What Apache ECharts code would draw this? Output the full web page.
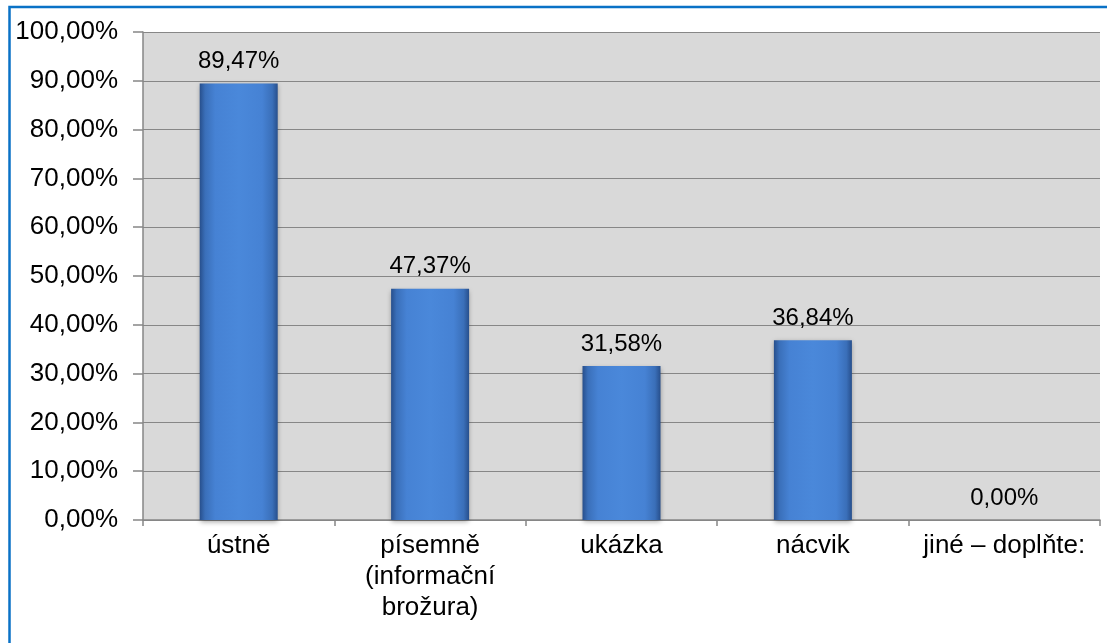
<!DOCTYPE html>
<html>
<head>
<meta charset="utf-8">
<script src="https://cdn.jsdelivr.net/npm/echarts@6/dist/echarts.min.js"></script>
<style>
  html, body { margin: 0; padding: 0; background: #ffffff; }
  #chart { width: 1107px; height: 643px; }
</style>
</head>
<body>
<div id="chart"></div>
<script>
// Categories and shares (percent)
const categories = ['ústně', 'písemně\n(informační\nbrožura)', 'ukázka', 'nácvik', 'jiné – doplňte:'];
const shares = [89.47, 47.37, 31.58, 36.84, 0.00];

const yMin = 0;
const yMax = 100;
const yStep = 10;

const pct = v => Number(v).toFixed(2).replace('.', ',') + '%';
const FONT = '"Liberation Sans", Arial, sans-serif';

const chart = echarts.init(document.getElementById('chart'), null, { renderer: 'canvas' });

// bevelled blue column: darker edges, lighter face
const barFill = new echarts.graphic.LinearGradient(0, 0, 1, 0, [
  { offset: 0, color: '#274f8c' },
  { offset: 0.07, color: '#3a6fb9' },
  { offset: 0.2, color: '#4682d4' },
  { offset: 0.5, color: '#4a88da' },
  { offset: 0.8, color: '#4682d4' },
  { offset: 0.93, color: '#3a6fb9' },
  { offset: 1, color: '#274f8c' }
]);

chart.setOption({
  backgroundColor: '#ffffff',
  animation: false,
  graphic: [{
    type: 'rect',
    shape: { x: 9.5, y: 7, width: 1200, height: 800 },
    style: { fill: 'none', stroke: '#0a72c6', lineWidth: 2.5 },
    silent: true
  }],
  grid: {
    left: 143, right: 7, top: 32, bottom: 123,
    show: true, backgroundColor: '#d9d9d9', borderWidth: 0
  },
  xAxis: {
    type: 'category',
    data: categories,
    axisLine: { show: true, lineStyle: { color: '#868686', width: 1.5 } },
    axisTick: { show: true, length: 6, lineStyle: { color: '#868686', width: 1.5 } },
    axisLabel: {
      color: '#000000', fontFamily: FONT, fontSize: 26, lineHeight: 31,
      margin: 10, interval: 0, align: 'center'
    },
    splitLine: { show: false }
  },
  yAxis: {
    type: 'value',
    min: yMin, max: yMax, interval: yStep,
    axisLine: { show: true, lineStyle: { color: '#868686', width: 1.5 } },
    axisTick: { show: true, length: 10, lineStyle: { color: '#868686', width: 1.5 } },
    axisLabel: {
      color: '#000000', fontFamily: FONT, fontSize: 26, margin: 25,
      formatter: v => pct(v)
    },
    splitLine: { show: true, lineStyle: { color: '#878787', width: 1.2 } }
  },
  series: [{
    type: 'bar',
    data: shares,
    barWidth: 78,
    itemStyle: {
      color: barFill,
      borderWidth: 0,
      shadowColor: 'rgba(0,0,0,0.35)',
      shadowBlur: 5,
      shadowOffsetY: 2
    },
    label: {
      show: true, position: 'top', distance: 10,
      color: '#000000', fontFamily: FONT, fontSize: 24,
      formatter: p => pct(p.value)
    }
  }]
});
</script>
</body>
</html>
